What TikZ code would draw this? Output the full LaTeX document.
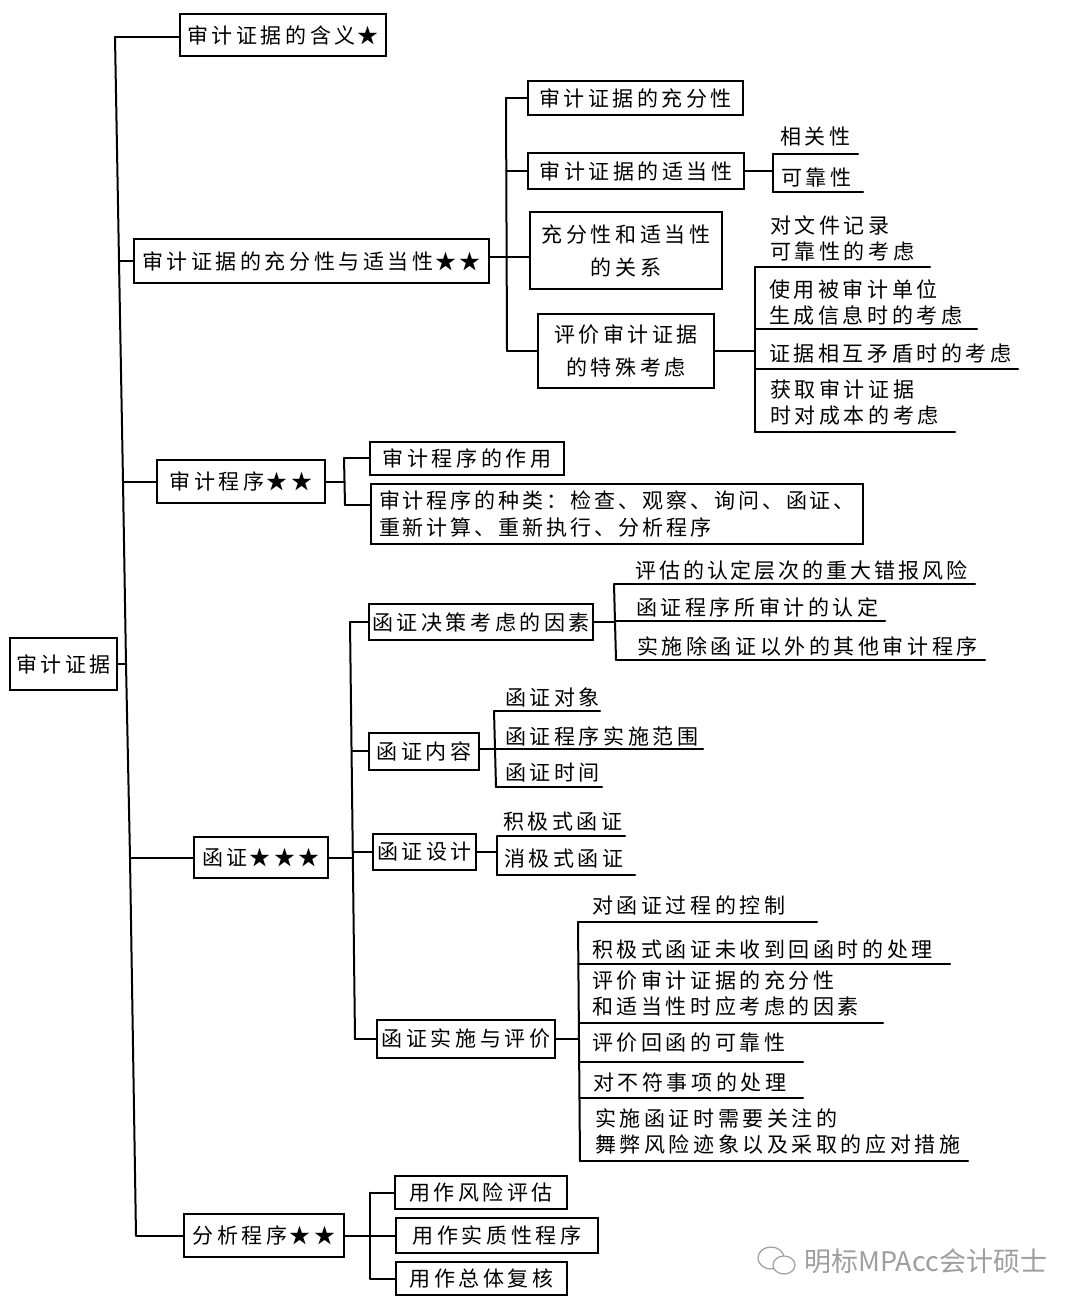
\documentclass[tikz,border=0pt]{standalone}
\usepackage{fontspec}
\setmainfont{Noto Sans CJK SC}[LetterSpace=17]
\newfontfamily\markfont{Noto Sans CJK SC}
\newfontfamily\tightfont{Noto Sans CJK SC}[LetterSpace=14]
\tikzset{
    boxnode/.style={draw, line width=2pt, inner sep=0pt, align=center, font=\fontsize{21}{33}\selectfont},
    leafnode/.style={anchor=west, inner sep=0pt, align=left, font=\fontsize{21}{26}\selectfont},
    link/.style={line width=2pt, line cap=round, line join=round},
    marknode/.style={anchor=west, inner sep=0pt, text=black!38, font=\markfont\fontsize{27}{27}\selectfont},
    markline/.style={line width=1.2pt, draw=black!38}
}
\begin{document}
\begin{tikzpicture}[x=1pt, y=-1pt]
    \useasboundingbox (0, 0) rectangle (1080, 1308);
    % main boxes
    \node[boxnode, minimum width=107pt, minimum height=52pt] (root) at (63.5, 664) {审计证据};
    \node[boxnode, minimum width=206pt, minimum height=42pt] (mean) at (283, 35) {审计证据的含义\hspace{2pt}★};
    \node[boxnode, minimum width=355pt, minimum height=44pt] (suff) at (311.5, 261) {审计证据的充分性与适当性\hspace{2pt}★★};
    \node[boxnode, minimum width=168pt, minimum height=43pt] (proc) at (241, 481.5) {审计程序\hspace{2pt}★★};
    \node[boxnode, minimum width=134pt, minimum height=41pt] (conf) at (261, 857.5) {函证\hspace{2pt}★★★};
    \node[boxnode, minimum width=160pt, minimum height=43pt] (anal) at (264, 1235.5) {分析程序\hspace{2pt}★★};
    % trunk
    \coordinate (tmean) at (115, 37);
    \coordinate (tsuff) at (119, 261);
    \coordinate (tproc) at (123, 481.5);
    \coordinate (troot) at (126, 664);
    \coordinate (tconf) at (130, 857.5);
    \coordinate (tanal) at (136, 1235.5);
    \draw[link] (tmean) -- (tsuff) -- (tproc) -- (troot) -- (tconf) -- (tanal);
    \draw[link] (root) -- (troot);
    \draw[link] (tmean) -- (tmean -| mean.west);
    \draw[link] (tsuff) -- (suff);
    \draw[link] (tproc) -- (proc);
    \draw[link] (tconf) -- (conf);
    \draw[link] (tanal) -- (anal);
    % sufficiency and appropriateness
    \node[boxnode, minimum width=215pt, minimum height=34pt] (suff1) at (635.5, 98) {审计证据的充分性};
    \node[boxnode, minimum width=216pt, minimum height=36pt] (suff2) at (636, 171) {审计证据的适当性};
    \node[boxnode, minimum width=192pt, minimum height=77pt] (suff3) at (626, 250.5) {充分性和适当性\\的关系};
    \node[boxnode, minimum width=176pt, minimum height=74pt] (suff4) at (626, 351) {评价审计证据\\的特殊考虑};
    \coordinate (bsuff1) at (506, 98);
    \coordinate (bsuff) at (506.5, 257);
    \coordinate (bsuff2) at (506, 171);
    \coordinate (bsuff3) at (507, 257);
    \coordinate (bsuff4) at (507, 351);
    \draw[link] (bsuff1) -- (bsuff4);
    \draw[link] (bsuff -| suff.east) -- (bsuff);
    \draw[link] (bsuff1) -- (suff1);
    \draw[link] (bsuff2) -- (suff2);
    \draw[link] (bsuff3) -- (bsuff3 -| suff3.west);
    \draw[link] (bsuff4) -- (suff4);
    % appropriateness leaves
    \node[leafnode] (rel) at (780, 137) {相关性};
    \node[leafnode] (rely) at (781, 178) {可靠性};
    \coordinate (rela) at (773, 154); \coordinate (relb) at (858, 154);
    \coordinate (relya) at (773, 192); \coordinate (relyb) at (863, 192);
    \coordinate (bsuff2r) at (773, 171);
    \draw[link] (rela) -- (relb);
    \draw[link] (relya) -- (relyb);
    \draw[link] (rela) -- (relya);
    \draw[link] (suff2) -- (bsuff2r);
    % special considerations
    \node[leafnode] (doc) at (770, 238) {对文件记录\\可靠性的考虑};
    \node[leafnode] (info) at (769, 303) {使用被审计单位\\生成信息时的考虑};
    \node[leafnode] (conflict) at (769, 354) {证据相互矛盾时的考虑};
    \node[leafnode] (cost) at (770, 403) {获取审计证据\\时对成本的考虑};
    \coordinate (doca) at (755, 267); \coordinate (docb) at (930, 267);
    \coordinate (infoa) at (755, 329); \coordinate (infob) at (977, 329);
    \coordinate (conflicta) at (755, 369); \coordinate (conflictb) at (1018, 369);
    \coordinate (costa) at (755, 432); \coordinate (costb) at (955, 432);
    \coordinate (bsuff4r) at (755, 351);
    \draw[link] (doca) -- (docb);
    \draw[link] (infoa) -- (infob);
    \draw[link] (conflicta) -- (conflictb);
    \draw[link] (costa) -- (costb);
    \draw[link] (doca) -- (costa);
    \draw[link] (suff4) -- (bsuff4r);
    % procedures
    \node[boxnode, minimum width=194pt, minimum height=33pt] (proc1) at (467, 458) {审计程序的作用};
    \node[boxnode, minimum width=492pt, minimum height=60pt, align=left, font=\tightfont\fontsize{21}{27}\selectfont] (proc2) at (617, 514) {审计程序的种类：检查、观察、询问、函证、\\重新计算、重新执行、分析程序};
    \coordinate (bproc) at (344, 481.5);
    \coordinate (bproc1) at (344, 458);
    \coordinate (bproc2) at (345, 505);
    \draw[link] (proc) -- (bproc);
    \draw[link] (bproc1) -- (bproc2);
    \draw[link] (bproc1) -- (proc1);
    \draw[link] (bproc2) -- (bproc2 -| proc2.west);
    % confirmation
    \node[boxnode, minimum width=224pt, minimum height=36pt] (conf1) at (481, 622) {函证决策考虑的因素};
    \node[boxnode, minimum width=110pt, minimum height=37pt] (conf2) at (424, 751) {函证内容};
    \node[boxnode, minimum width=103pt, minimum height=36pt] (conf3) at (424.5, 852) {函证设计};
    \node[boxnode, minimum width=178pt, minimum height=38pt] (conf4) at (466, 1039) {函证实施与评价};
    \coordinate (bconf1) at (350, 622);
    \coordinate (bconf2) at (351.5, 751);
    \coordinate (bconf) at (352.5, 857.5);
    \coordinate (bconf3) at (352.5, 852);
    \coordinate (bconf4) at (355, 1039);
    \draw[link] (bconf1) -- (bconf4);
    \draw[link] (conf) -- (bconf);
    \draw[link] (bconf1) -- (conf1);
    \draw[link] (bconf2) -- (conf2);
    \draw[link] (bconf3) -- (conf3);
    \draw[link] (bconf4) -- (conf4);
    % decision factors
    \node[leafnode, font=\tightfont\fontsize{21}{26}\selectfont] (risk) at (635, 571) {评估的认定层次的重大错报风险};
    \node[leafnode] (asser) at (636, 607) {函证程序所审计的认定};
    \node[leafnode] (other) at (637, 647) {实施除函证以外的其他审计程序};
    \coordinate (riska) at (614, 584); \coordinate (riskb) at (975, 584);
    \coordinate (assera) at (615, 621); \coordinate (asserb) at (885, 621);
    \coordinate (othera) at (616, 660); \coordinate (otherb) at (985, 660);
    \coordinate (bconf1r) at (615, 622);
    \draw[link] (riska) -- (riskb);
    \draw[link] (assera) -- (asserb);
    \draw[link] (othera) -- (otherb);
    \draw[link] (riska) -- (othera);
    \draw[link] (conf1) -- (bconf1r);
    % content
    \node[leafnode] (obj) at (505, 697) {函证对象};
    \node[leafnode] (scope) at (505, 736) {函证程序实施范围};
    \node[leafnode] (time) at (505, 773) {函证时间};
    \coordinate (obja) at (494, 711); \coordinate (objb) at (600, 711);
    \coordinate (scopea) at (495, 749); \coordinate (scopeb) at (703, 749);
    \coordinate (timea) at (496, 787); \coordinate (timeb) at (602, 787);
    \draw[link] (obja) -- (objb);
    \draw[link] (scopea) -- (scopeb);
    \draw[link] (timea) -- (timeb);
    \draw[link] (obja) -- (timea);
    \draw[link] (scopea -| conf2.east) -- (scopea);
    % design
    \node[leafnode] (pos) at (503, 822) {积极式函证};
    \node[leafnode] (neg) at (504, 859) {消极式函证};
    \coordinate (posa) at (497, 836); \coordinate (posb) at (625, 836);
    \coordinate (nega) at (497, 875); \coordinate (negb) at (635, 875);
    \coordinate (bconf3r) at (497, 852);
    \draw[link] (posa) -- (posb);
    \draw[link] (nega) -- (negb);
    \draw[link] (posa) -- (nega);
    \draw[link] (conf3) -- (bconf3r);
    % execution and evaluation
    \node[leafnode] (ctrl) at (592, 905) {对函证过程的控制};
    \node[leafnode] (noreply) at (592, 949) {积极式函证未收到回函时的处理};
    \node[leafnode] (eval) at (592, 994) {评价审计证据的充分性\\和适当性时应考虑的因素};
    \node[leafnode] (reply) at (592, 1043) {评价回函的可靠性};
    \node[leafnode] (diff) at (593, 1082) {对不符事项的处理};
    \node[leafnode] (fraud) at (595, 1132) {实施函证时需要关注的\\舞弊风险迹象以及采取的应对措施};
    \coordinate (ctrla) at (578, 922); \coordinate (ctrlb) at (817, 922);
    \coordinate (noreplya) at (578, 964); \coordinate (noreplyb) at (950, 964);
    \coordinate (evala) at (579, 1023); \coordinate (evalb) at (883, 1023);
    \coordinate (replya) at (579, 1062); \coordinate (replyb) at (803, 1062);
    \coordinate (diffa) at (580, 1098); \coordinate (diffb) at (803, 1098);
    \coordinate (frauda) at (580, 1161); \coordinate (fraudb) at (968, 1161);
    \coordinate (bconf4r) at (579, 1039);
    \draw[link] (ctrla) -- (ctrlb);
    \draw[link] (noreplya) -- (noreplyb);
    \draw[link] (evala) -- (evalb);
    \draw[link] (replya) -- (replyb);
    \draw[link] (diffa) -- (diffb);
    \draw[link] (frauda) -- (fraudb);
    \draw[link] (ctrla) -- (frauda);
    \draw[link] (conf4) -- (bconf4r);
    % analytical procedures
    \node[boxnode, minimum width=172pt, minimum height=33pt] (anal1) at (481, 1192.5) {用作风险评估};
    \node[boxnode, minimum width=202pt, minimum height=35pt] (anal2) at (497, 1235.5) {用作实质性程序};
    \node[boxnode, minimum width=171pt, minimum height=33pt] (anal3) at (481.5, 1278.5) {用作总体复核};
    \coordinate (banal1) at (370, 1192.5);
    \coordinate (banal3) at (370, 1278.5);
    \draw[link] (banal1) -- (banal3);
    \draw[link] (banal1) -- (anal1);
    \draw[link] (banal3) -- (anal3);
    \draw[link] (anal) -- (anal2);
    % watermark
    \draw[markline] (771, 1258) ellipse (13pt and 11pt);
    \draw[markline, fill=white] (784, 1265) ellipse (11pt and 9pt);
    \node[marknode] (mark) at (804, 1261) {明标MPAcc会计硕士};
\end{tikzpicture}
\end{document}
